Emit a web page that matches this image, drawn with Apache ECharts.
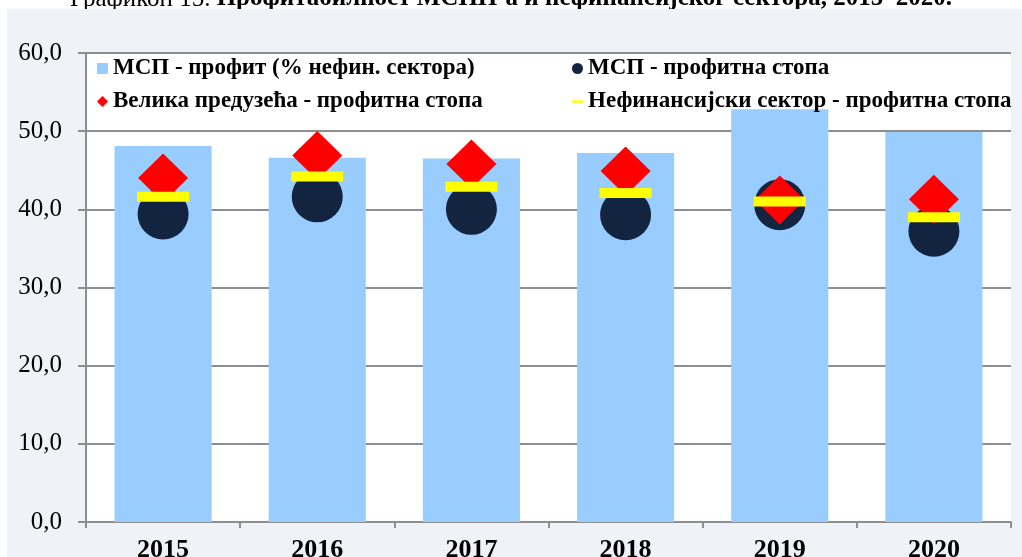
<!DOCTYPE html>
<html>
<head>
<meta charset="utf-8">
<script src="https://cdn.jsdelivr.net/npm/echarts@6/dist/echarts.min.js"></script>
<style>
  html, body { margin: 0; padding: 0; background: #fff; }
  #chart { width: 1022px; height: 557px; }
</style>
</head>
<body>
<div id="chart"></div>
<script>
const years = ['2015', '2016', '2017', '2018', '2019', '2020'];
const smeProfitShare = [48.1, 46.6, 46.5, 47.2, 52.8, 49.9];
const smeProfitRate = [39.4, 41.6, 40.0, 39.3, 40.6, 37.2];
const largeProfitRate = [44.0, 46.9, 45.8, 44.9, 41.2, 41.3];
const nonfinProfitRate = [41.6, 44.2, 42.9, 42.1, 41.0, 39.0];

const serif = '"Liberation Serif", "DejaVu Serif", serif';
const gray = '#8e8e8e';

const chart = echarts.init(document.getElementById('chart'));

chart.setOption({
  animation: false,
  textStyle: { fontFamily: serif },
  graphic: [
    {
      type: 'text',
      z: -6,
      left: 'center',
      y: -1,
      style: {
        text: '{a|Графикон 15. }{b|Профитабилност МСПП-а и нефинансијског сектора, 2015–2020.}',
        verticalAlign: 'middle',
        rich: {
          a: { fontFamily: serif, fontSize: 25, color: '#000' },
          b: { fontFamily: serif, fontSize: 25, fontWeight: 'bold', color: '#000' }
        }
      }
    },
    {
      type: 'rect',
      z: -5,
      shape: { x: 7, y: 9, width: 1015, height: 548 },
      style: { fill: '#eff3f8' }
    }
  ],
  grid: {
    left: 86,
    right: 11,
    top: 53,
    bottom: 35,
    outerBoundsMode: 'none',
    containLabel: false,
    show: true,
    backgroundColor: '#ffffff',
    borderWidth: 0
  },
  legend: {
    left: 97,
    top: 57,
    width: 960,
    padding: 0,
    itemWidth: 11,
    itemHeight: 11,
    itemGap: 10,
    textStyle: {
      fontFamily: serif,
      fontSize: 23,
      fontWeight: 'bold',
      color: '#000',
      width: 449,
      lineHeight: 22
    },
    data: [
      { name: 'МСП - профит (% нефин. сектора)', icon: 'rect' },
      { name: 'МСП - профитна стопа', icon: 'circle' },
      { name: 'Велика предузећа - профитна стопа', icon: 'diamond' },
      { name: 'Нефинансијски сектор - профитна стопа', icon: 'path://M0 0H14V3H0Z' }
    ]
  },
  xAxis: {
    type: 'category',
    data: years,
    axisLine: { lineStyle: { color: gray, width: 2 } },
    axisTick: { show: true, length: 6, lineStyle: { color: gray, width: 2 } },
    axisLabel: {
      fontFamily: serif,
      fontSize: 26,
      fontWeight: 'bold',
      color: '#000',
      margin: 15
    }
  },
  yAxis: {
    type: 'value',
    min: 0,
    max: 60,
    interval: 10,
    axisLine: { show: true, lineStyle: { color: gray, width: 2 } },
    axisTick: { show: true, length: 8, lineStyle: { color: gray, width: 2 } },
    splitLine: { lineStyle: { color: gray, width: 2 } },
    axisLabel: {
      fontFamily: serif,
      fontSize: 25,
      color: '#000',
      margin: 24,
      formatter: v => v.toFixed(1).replace('.', ',')
    }
  },
  series: [
    {
      name: 'МСП - профит (% нефин. сектора)',
      type: 'bar',
      z: 2,
      barWidth: '63%',
      itemStyle: { color: '#99ccff' },
      data: smeProfitShare
    },
    {
      name: 'МСП - профитна стопа',
      type: 'scatter',
      z: 3,
      symbol: 'circle',
      symbolSize: 51,
      itemStyle: { color: '#12243f', opacity: 1 },
      data: smeProfitRate
    },
    {
      name: 'Велика предузећа - профитна стопа',
      type: 'scatter',
      z: 4,
      symbol: 'diamond',
      symbolSize: [50, 49],
      itemStyle: { color: '#ff0000', opacity: 1 },
      data: largeProfitRate
    },
    {
      name: 'Нефинансијски сектор - профитна стопа',
      type: 'scatter',
      z: 5,
      symbol: 'rect',
      symbolSize: [52, 10],
      itemStyle: { color: '#ffff00', opacity: 1 },
      data: nonfinProfitRate
    }
  ]
});
</script>
</body>
</html>
